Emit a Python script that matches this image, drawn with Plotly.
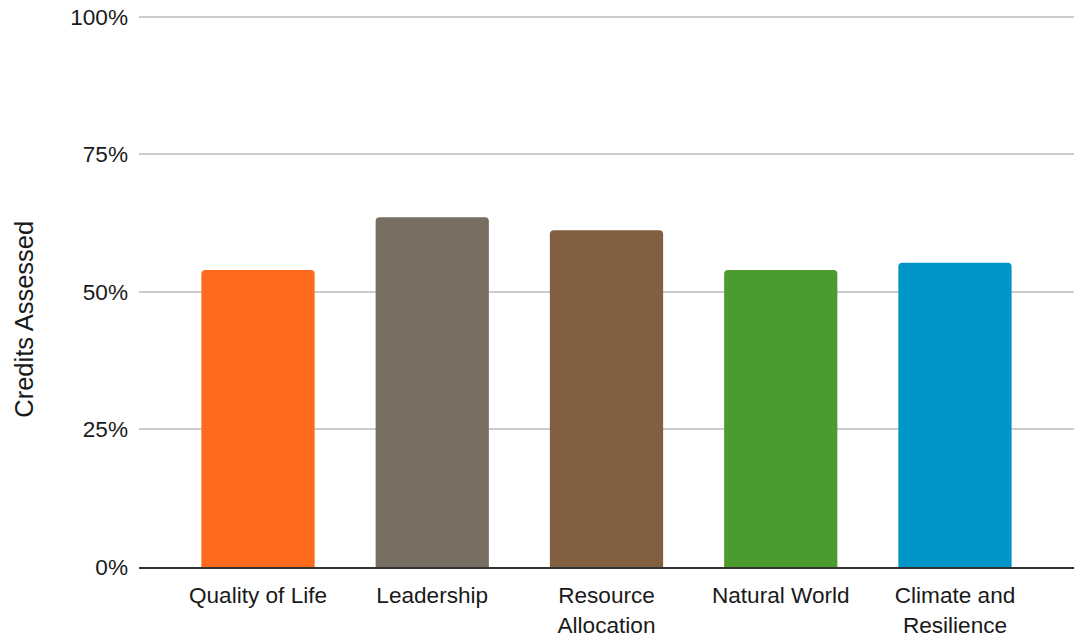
import plotly.graph_objects as go

categories = ["Quality of Life", "Leadership", "Resource<br>Allocation", "Natural World", "Climate and<br>Resilience"]
values = [0.54, 0.636, 0.612, 0.54, 0.553]
colors = ["#FF6A1C", "#796E62", "#825F41", "#4C9B2F", "#0095C8"]
y_ticks = [0, 0.25, 0.5, 0.75, 1.0]
y_tick_labels = ["0%", "25%", "50%", "75%", "100%"]

font_family = "Liberation Sans, Arial, sans-serif"
W, H = 1074, 638
t_m, b_m = 9, 67

fig = go.Figure(go.Bar(
    x=categories,
    y=values,
    marker=dict(color=colors, line=dict(width=0), cornerradius=4),
    width=0.65,
))

plot_h = H - t_m - b_m
fig.update_layout(
    width=W, height=H,
    margin=dict(l=139, r=0, t=t_m, b=b_m),
    paper_bgcolor="white", plot_bgcolor="white",
    font=dict(family=font_family, size=22.6, color="#1a1a1a"),
    showlegend=False,
    xaxis=dict(
        range=[-0.683, 4.683],
        showgrid=False,
        showline=True, linecolor="#333333", linewidth=2,
        ticks="", ticklabelstandoff=7,
        tickfont=dict(size=22.6, color="#1a1a1a"),
        fixedrange=True,
    ),
    yaxis=dict(
        range=[0, plot_h / 554.0],
        tickvals=y_ticks, ticktext=y_tick_labels,
        showgrid=True, gridcolor="#CCCCCC", gridwidth=2,
        zeroline=False, showline=False,
        ticks="", ticklabelstandoff=10,
        tickfont=dict(size=22.6, color="#1a1a1a"),
        automargin=False,
    ),
    annotations=[dict(
        text="Credits Assessed", textangle=-90,
        xref="paper", yref="paper",
        x=(24 - 139) / (W - 139), y=(H - b_m - 322) / plot_h,
        xanchor="center", yanchor="middle", showarrow=False,
        font=dict(size=25.5, color="#1a1a1a", family=font_family),
    )],
)

fig.write_html("out.html")
